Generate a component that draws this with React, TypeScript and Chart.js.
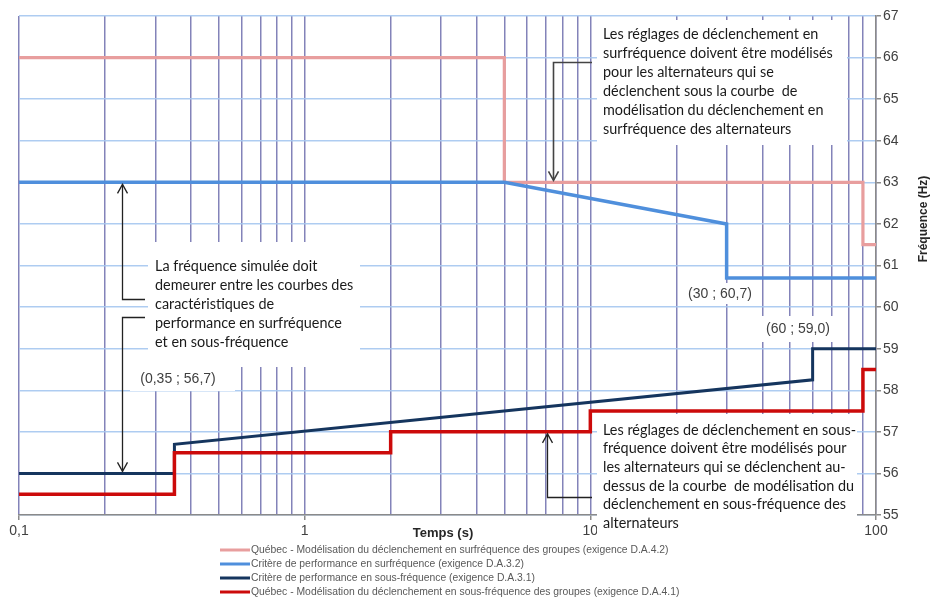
import React, { useEffect, useRef } from "react";
import { Chart, registerables } from "chart.js";

Chart.register(...registerables);

// ---- data ----
const timeTicks = [
  0.1, 0.2, 0.3, 0.4, 0.5, 0.6, 0.7, 0.8, 0.9,
  1, 2, 3, 4, 5, 6, 7, 8, 9,
  10, 20, 30, 40, 50, 60, 70, 80, 90, 100,
];
const majorTimeTicks = [0.1, 1, 10, 100];
const majorTimeLabels = ["0,1", "1", "10", "100"];
const freqMin = 55;
const freqMax = 67;

const overQcTime = [0.1, 5, 5, 90, 90, 100];
const overQcFreq = [66, 66, 63, 63, 61.5, 61.5];
const overCritTime = [0.1, 5, 30, 30, 100];
const overCritFreq = [63, 63, 62, 60.7, 60.7];
const underCritTime = [0.1, 0.35, 0.35, 60, 60, 100];
const underCritFreq = [56, 56, 56.7, 58.25, 59, 59];
const underQcTime = [0.1, 0.35, 0.35, 2, 2, 10, 10, 90, 90, 100];
const underQcFreq = [55.5, 55.5, 56.5, 56.5, 57, 57, 57.5, 57.5, 58.5, 58.5];

const seriesLabels = [
  "Québec - Modélisation du déclenchement en surfréquence des groupes (exigence D.A.4.2)",
  "Critère de performance en surfréquence (exigence D.A.3.2)",
  "Critère de performance en sous-fréquence (exigence D.A.3.1)",
  "Québec - Modélisation du déclenchement en sous-fréquence des groupes (exigence D.A.4.1)",
];

const xTitle = "Temps (s)";
const yTitle = "Fréquence (Hz)";

const noteOver = [
  "Les réglages de déclenchement en",
  "surfréquence doivent être modélisés",
  "pour les alternateurs qui se",
  "déclenchent sous la courbe  de",
  "modélisation du déclenchement en",
  "surfréquence des alternateurs",
];
const noteBand = [
  "La fréquence simulée doit",
  "demeurer entre les courbes des",
  "caractéristiques de",
  "performance en surfréquence",
  "et en sous-fréquence",
];
const noteUnder = [
  "Les réglages de déclenchement en sous-",
  "fréquence doivent être modélisés pour",
  "les alternateurs qui se déclenchent au-",
  "dessus de la courbe  de modélisation du",
  "déclenchement en sous-fréquence des",
  "alternateurs",
];
const pointLabels = ["(30 ; 60,7)", "(60 ; 59,0)", "(0,35 ; 56,7)"];

// ---- styles ----
const seriesColors = ["#e89e9e", "#4f8fdc", "#15355e", "#cc0a0a"];
const seriesWidths = [3.2, 3.5, 3, 3.5];
const vGrid = "rgba(100,100,168,0.8)";
const hGrid = "rgba(165,198,240,0.9)";
const axisGray = "#8a8a8a";
const tickText = "#404040";
const sans = "'Liberation Sans', Arial, sans-serif";
const noteFamily = "Lato, 'Open Sans', sans-serif";

function pts(t: number[], f: number[]) {
  return t.map((x, i) => ({ x, y: f[i] }));
}

function arrowHead(ctx: CanvasRenderingContext2D, x: number, y: number, dir: number) {
  // dir = -1 pointing up, +1 pointing down
  ctx.beginPath();
  ctx.moveTo(x - 5, y - dir * 9);
  ctx.lineTo(x, y);
  ctx.lineTo(x + 5, y - dir * 9);
  ctx.stroke();
}

const annotationPlugin = {
  id: "annotations",
  beforeDatasetsDraw(chart: any) {
    const ctx: CanvasRenderingContext2D = chart.ctx;
    ctx.save();
    // white boxes
    ctx.fillStyle = "#ffffff";
    const boxes = [
      [597, 20, 250, 125],
      [148, 242, 212, 125],
      [597, 414, 260, 122],
      [682, 283, 76, 21],
      [760, 316, 76, 26],
      [130, 367, 105, 24],
    ];
    boxes.forEach(([x, y, w, h]) => ctx.fillRect(x, y, w, h));

    // fit note font
    ctx.font = `100px ${noteFamily}`;
    const w100 = ctx.measureText(noteOver[1]).width;
    const size = (100 * 230) / w100;
    ctx.font = `${size.toFixed(2)}px ${noteFamily}`;
    ctx.fillStyle = "#1a1a1a";
    ctx.textAlign = "left";
    ctx.textBaseline = "middle";
    noteOver.forEach((s, i) => ctx.fillText(s, 603, 34 + i * 19));
    noteBand.forEach((s, i) => ctx.fillText(s, 155, 266 + i * 19));
    noteUnder.forEach((s, i) => ctx.fillText(s, 603, 430 + i * 18.7));

    ctx.font = `14px ${sans}`;
    ctx.fillStyle = tickText;
    ctx.textAlign = "center";
    const lp = [
      [720, 294],
      [798, 329],
      [178, 379],
    ];
    pointLabels.forEach((s, i) => ctx.fillText(s, lp[i][0], lp[i][1]));
    ctx.restore();
  },
  afterDatasetsDraw(chart: any) {
    const ctx: CanvasRenderingContext2D = chart.ctx;
    const xs = chart.scales.x;
    const ys = chart.scales.y;
    ctx.save();
    ctx.strokeStyle = "#222";
    ctx.lineWidth = 1.3;

    // arrow 1: up to over-frequency criterion
    const a1x = Math.round(xs.getPixelForValue(0.23)) + 0.5;
    const a1y = ys.getPixelForValue(63) + 2;
    ctx.beginPath();
    ctx.moveTo(145, 299.5);
    ctx.lineTo(a1x, 299.5);
    ctx.lineTo(a1x, a1y);
    ctx.stroke();
    arrowHead(ctx, a1x, a1y, -1);

    // arrow 2: down to under-frequency criterion
    const a2y = ys.getPixelForValue(56) - 2;
    ctx.beginPath();
    ctx.moveTo(145, 317.5);
    ctx.lineTo(a1x, 317.5);
    ctx.lineTo(a1x, a2y);
    ctx.stroke();
    arrowHead(ctx, a1x, a2y, 1);

    // arrow 3: down to Québec over-frequency
    ctx.strokeStyle = "#444";
    ctx.lineWidth = 1.6;
    const a3x = Math.round(xs.getPixelForValue(7.4)) + 0.5;
    const a3y = ys.getPixelForValue(63) - 2;
    ctx.beginPath();
    ctx.moveTo(592, 62.5);
    ctx.lineTo(a3x, 62.5);
    ctx.lineTo(a3x, a3y);
    ctx.stroke();
    arrowHead(ctx, a3x, a3y, 1);

    // arrow 4: up to Québec under-frequency
    ctx.strokeStyle = "#222";
    ctx.lineWidth = 1.3;
    const a4x = Math.round(xs.getPixelForValue(7.05)) + 0.5;
    const a4y = ys.getPixelForValue(57) + 2;
    ctx.beginPath();
    ctx.moveTo(592, 497.5);
    ctx.lineTo(a4x, 497.5);
    ctx.lineTo(a4x, a4y);
    ctx.stroke();
    arrowHead(ctx, a4x, a4y, -1);

    // axis titles
    ctx.fillStyle = "#262626";
    ctx.textBaseline = "middle";
    ctx.textAlign = "center";
    ctx.font = `bold 13px ${sans}`;
    ctx.fillText(xTitle, 443, 533);
    ctx.save();
    ctx.translate(924, 219);
    ctx.rotate(-Math.PI / 2);
    ctx.font = `bold 12px ${sans}`;
    ctx.fillText(yTitle, 0, 0);
    ctx.restore();

    // legend
    ctx.font = `100px ${sans}`;
    const lw100 = ctx.measureText(seriesLabels[1]).width;
    const ls = (100 * 273) / lw100;
    ctx.font = `${ls.toFixed(2)}px ${sans}`;
    ctx.textAlign = "left";
    ctx.fillStyle = "#595959";
    seriesLabels.forEach((s, i) => {
      const y = 550 + i * 14;
      ctx.strokeStyle = seriesColors[i];
      ctx.lineWidth = 3;
      ctx.beginPath();
      ctx.moveTo(220, y);
      ctx.lineTo(250, y);
      ctx.stroke();
      ctx.fillText(s, 251, y);
    });
    ctx.restore();
  },
};

export default function App() {
  const canvasRef = useRef<HTMLCanvasElement | null>(null);

  useEffect(() => {
    if (!canvasRef.current) return;
    const series = [
      pts(overQcTime, overQcFreq),
      pts(overCritTime, overCritFreq),
      pts(underCritTime, underCritFreq),
      pts(underQcTime, underQcFreq),
    ];
    const chart = new Chart(canvasRef.current, {
      type: "line",
      data: {
        datasets: series.map((d, i) => ({
          label: seriesLabels[i],
          data: d,
          borderColor: seriesColors[i],
          backgroundColor: seriesColors[i],
          borderWidth: seriesWidths[i],
          pointRadius: 0,
          fill: false,
          tension: 0,
          order: 4 - i,
          borderJoinStyle: "miter" as const,
        })),
      },
      options: {
        animation: false,
        responsive: true,
        maintainAspectRatio: false,
        layout: { padding: { left: 19, top: 16, right: 0, bottom: 0 } },
        plugins: {
          legend: { display: false },
          tooltip: { enabled: false },
        },
        scales: {
          x: {
            type: "logarithmic",
            min: 0.1,
            max: 100,
            afterBuildTicks: (s: any) => {
              s.ticks = timeTicks.map((v) => ({ value: v, major: majorTimeTicks.includes(v) }));
            },
            afterFit: (s: any) => {
              s.height = 85;
            },
            ticks: {
              autoSkip: false,
              maxRotation: 0,
              minRotation: 0,
              padding: 3,
              color: tickText,
              font: { family: sans, size: 14 },
              callback: (v: any) => {
                const k = majorTimeTicks.indexOf(Number(v));
                return k >= 0 ? majorTimeLabels[k] : "";
              },
            },
            grid: {
              color: vGrid,
              lineWidth: 1.5,
              tickLength: 5,
              tickColor: (c: any) =>
                c.tick && majorTimeTicks.includes(c.tick.value) ? axisGray : "rgba(0,0,0,0)",
            },
            border: { color: axisGray, width: 1.5 },
          },
          y: {
            type: "linear",
            position: "right",
            min: freqMin,
            max: freqMax,
            afterFit: (s: any) => {
              s.width = 56;
            },
            ticks: {
              stepSize: 1,
              padding: 2,
              color: tickText,
              font: { family: sans, size: 14 },
            },
            grid: {
              color: hGrid,
              lineWidth: 1.5,
              tickLength: 5,
              tickColor: axisGray,
            },
            border: { color: axisGray, width: 1.5 },
          },
        },
      },
      plugins: [annotationPlugin],
    } as any);
    return () => chart.destroy();
  }, []);

  return (
    <div style={{ position: "fixed", left: 0, top: 0, width: 932, height: 600, background: "#fff" }}>
      <canvas ref={canvasRef} />
    </div>
  );
}
